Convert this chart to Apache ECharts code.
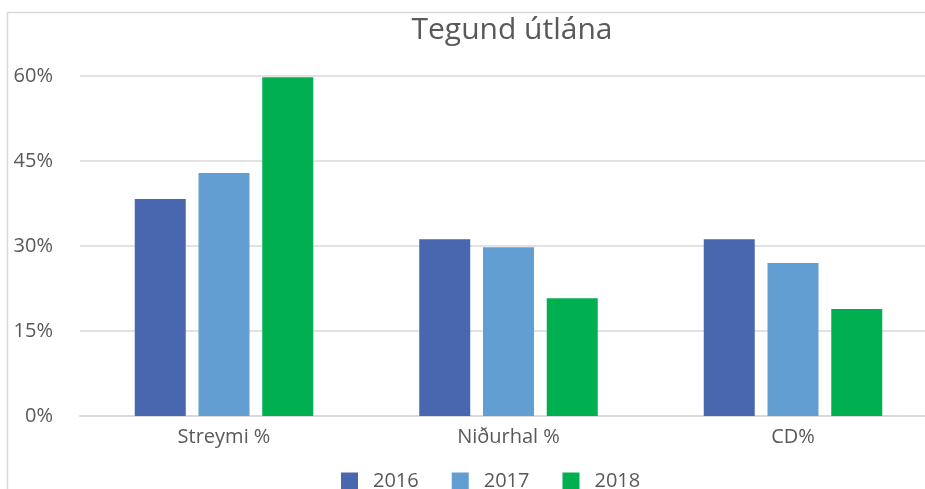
<!DOCTYPE html>
<html>
<head>
<meta charset="utf-8">
<script src="https://cdn.jsdelivr.net/npm/echarts@6/dist/echarts.min.js"></script>
<style>
  html, body { margin: 0; padding: 0; background: #fff; }
  #main { width: 925px; height: 489px; }
</style>
</head>
<body>
<div id="main"></div>
<script>
// gögn lesin af myndinni
var flokkar = ['Streymi %', 'Niðurhal %', 'CD%'];
var ar2016 = [38.3, 31.2, 31.2];
var ar2017 = [42.9, 29.8, 27.0];
var ar2018 = [59.8, 20.8, 18.9];
var litir = ['#4967ae', '#629ed1', '#00af50'];

var myChart = echarts.init(document.getElementById('main'));
var textFont = 'Open Sans';

function serie(nafn, gogn, litur) {
    return {
        name: nafn,
        type: 'bar',
        xAxisIndex: 1,
        yAxisIndex: 1,
        data: gogn,
        barWidth: 51,
        barGap: '25%',
        itemStyle: { color: litur }
    };
}

var option = {
    animation: false,
    title: {
        text: 'Tegund útlána',
        left: 507,
        textAlign: 'center',
        top: 10,
        textStyle: {
            fontFamily: textFont,
            fontWeight: 'normal',
            fontSize: 30,
            color: '#595959'
        }
    },
    // ytri rammi
    graphic: [{
        type: 'rect',
        shape: { x: 7.5, y: 12.5, width: 940, height: 500 },
        style: { fill: null, stroke: '#d9d9d9', lineWidth: 1.5 },
        silent: true
    }],
    legend: {
        data: ['2016', '2017', '2018'],
        top: 471,
        left: 341,
        icon: 'rect',
        itemWidth: 17,
        itemHeight: 17,
        itemGap: 33,
        padding: 0,
        textStyle: {
            fontFamily: textFont,
            fontSize: 20,
            color: '#595959',
            padding: [0, 0, 0, 10]
        }
    },
    // grid 0: hnitalínur yfir alla breiddina, grid 1: súlurnar
    grid: [
        { left: 80, right: 0, top: 76, bottom: 73 },
        { left: 224, right: 132, top: 76, bottom: 73 }
    ],
    xAxis: [{
        gridIndex: 0,
        type: 'category',
        data: flokkar,
        axisTick: { show: false },
        axisLabel: { show: false },
        axisLine: { lineStyle: { color: '#d9d9d9', width: 2 } }
    }, {
        gridIndex: 1,
        type: 'category',
        data: flokkar,
        boundaryGap: false,
        axisTick: { show: false },
        axisLine: { show: false },
        axisLabel: {
            margin: 11,
            fontFamily: textFont,
            fontSize: 20,
            color: '#595959'
        }
    }],
    yAxis: [{
        gridIndex: 0,
        type: 'value',
        min: 0,
        max: 60,
        interval: 15,
        axisLine: { show: false },
        axisTick: { show: false },
        splitLine: { lineStyle: { color: '#d9d9d9', width: 1.5 } },
        axisLabel: {
            margin: 27,
            fontFamily: textFont,
            fontSize: 20,
            color: '#595959',
            formatter: '{value}%'
        }
    }, {
        gridIndex: 1,
        type: 'value',
        min: 0,
        max: 60,
        interval: 15,
        show: false
    }],
    series: [
        serie('2016', ar2016, litir[0]),
        serie('2017', ar2017, litir[1]),
        serie('2018', ar2018, litir[2])
    ]
};
myChart.setOption(option);
</script>
</body>
</html>
